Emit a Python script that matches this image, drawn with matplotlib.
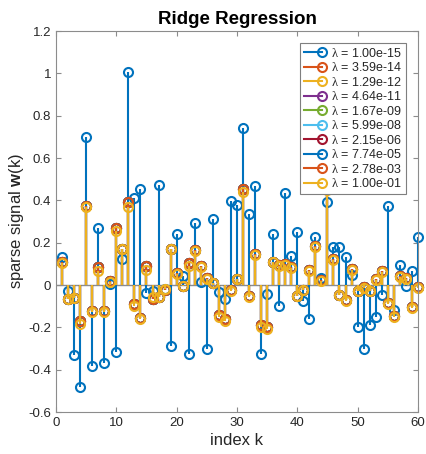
import numpy as np
import matplotlib
matplotlib.use("Agg")
import matplotlib.pyplot as plt
from matplotlib.lines import Line2D
from matplotlib.legend_handler import HandlerBase

plt.rcParams['font.family'] = ['Liberation Sans', 'DejaVu Sans']
plt.rcParams['mathtext.fontset'] = 'custom'
plt.rcParams['mathtext.bf'] = 'Liberation Sans:bold'
plt.rcParams['mathtext.rm'] = 'Liberation Serif'

# ---- data ----
k = np.arange(1, 61)
lambdas = ["1.00e-15", "3.59e-14", "1.29e-12", "4.64e-11", "1.67e-09",
           "5.99e-08", "2.15e-06", "7.74e-05", "2.78e-03", "1.00e-01"]

w_lam1 = [0.13, -0.028, -0.33, -0.483, 0.698, -0.383, 0.268, -0.37, 0.005, -0.318,
          0.121, 1.008, 0.41, 0.455, -0.04, -0.03, 0.472, -0.02, -0.288, 0.24,
          0.042, -0.328, 0.295, 0.016, -0.302, 0.31, -0.033, -0.068, 0.397, 0.378,
          0.74, 0.334, 0.47, -0.326, -0.042, 0.24, -0.098, 0.433, 0.138, 0.25,
          -0.074, -0.162, 0.225, 0.035, 0.392, 0.178, 0.178, 0.134, 0.047, -0.2,
          -0.304, -0.19, -0.15, -0.047, 0.375, -0.118, 0.094, -0.003, 0.065, 0.225]

w_mid = [0.11, -0.066, -0.06, -0.172, 0.372, -0.124, 0.085, -0.124, 0.018, 0.268,
         0.172, 0.39, -0.09, -0.155, 0.09, -0.065, -0.058, -0.022, 0.172, 0.055,
         -0.003, 0.105, 0.165, 0.092, 0.032, 0.01, -0.143, -0.162, -0.025, 0.03,
         0.452, -0.052, 0.148, -0.19, -0.2, 0.11, 0.094, 0.1, 0.083, -0.05,
         -0.022, 0.072, 0.183, 0.025, 0.455, 0.122, -0.045, -0.07, 0.076, -0.028,
         -0.01, -0.027, 0.03, 0.068, -0.086, -0.148, 0.042, 0.032, -0.106, -0.008]

w_last = [0.105, -0.068, -0.063, -0.185, 0.367, -0.126, 0.068, -0.126, 0.016, 0.255,
          0.168, 0.37, -0.1, -0.16, 0.07, -0.058, -0.055, -0.02, 0.17, 0.05,
          -0.005, 0.09, 0.16, 0.085, 0.03, 0.008, -0.15, -0.168, -0.027, 0.028,
          0.44, -0.055, 0.14, -0.2, -0.208, 0.107, 0.091, 0.095, 0.08, -0.052,
          -0.024, 0.068, 0.18, 0.018, 0.45, 0.12, -0.047, -0.074, 0.07, -0.03,
          -0.013, -0.03, 0.025, 0.062, -0.09, -0.153, 0.04, 0.03, -0.11, -0.016]

series = [w_lam1] + [w_mid] * 8 + [w_last]

colors = ['#0072BD', '#D95319', '#EDB120', '#7E2F8E', '#77AC30',
          '#4DBEEE', '#A2142F', '#0072BD', '#D95319', '#EDB120']

# ---- figure ----
fig = plt.figure(figsize=(4.26, 4.54), dpi=100)
ax = fig.add_axes([0.1315, 0.0925, 0.8495, 0.8392])

ax.axhline(0, color='#8c8c8c', lw=1.0, zorder=1)
handles = []
for vals, c, lam in zip(series, colors, lambdas):
    ml, sl, bl = ax.stem(k, vals, basefmt=' ')
    sl.set_color(c)
    sl.set_linewidth(1.5)
    ml.set_marker('o')
    ml.set_markerfacecolor('none')
    ml.set_markeredgecolor(c)
    ml.set_markersize(6.5)
    ml.set_markeredgewidth(1.5)
    ml.set_clip_on(False)
    h = Line2D([], [], color=c, lw=1.5)
    handles.append((h, r'$\mathrm{\lambda}$ = ' + lam))


class StemHandler(HandlerBase):
    def create_artists(self, legend, orig_handle, xdescent, ydescent,
                       width, height, fontsize, trans):
        c = orig_handle.get_color()
        y = height / 2 - ydescent
        line = Line2D([-xdescent, width - xdescent - 4], [y, y], color=c, lw=1.5)
        mk = Line2D([width - xdescent - 4], [y], marker='o', mfc='none', mec=c,
                    ms=6.5, mew=1.5, ls='none')
        line.set_transform(trans)
        mk.set_transform(trans)
        return [line, mk]


leg = ax.legend([h for h, _ in handles], [t for _, t in handles],
                handler_map={Line2D: StemHandler()},
                loc='upper right', bbox_to_anchor=(0.966, 0.969),
                fontsize=9, frameon=True, fancybox=False, framealpha=1,
                edgecolor='#7f7f7f', handlelength=1.9, handletextpad=0.25,
                labelspacing=0.12, borderpad=0.3, borderaxespad=0.0)
leg.get_frame().set_linewidth(0.8)
for t in leg.get_texts():
    t.set_color('#262626')

ax.set_xlim(0, 60)
ax.set_ylim(-0.6, 1.2)
ax.set_xticks(np.arange(0, 61, 10))
ax.set_yticks(np.round(np.arange(-0.6, 1.21, 0.2), 1))
ax.set_yticklabels(['-0.6', '-0.4', '-0.2', '0', '0.2', '0.4', '0.6', '0.8', '1', '1.2'])

for s in ax.spines.values():
    s.set_color('#8c8c8c')
    s.set_linewidth(0.8)
ax.tick_params(direction='in', length=3.5, width=0.8, color='#8c8c8c',
               labelcolor='#262626', labelsize=9.5, top=True, right=True)

ax.set_xlabel('index k', fontsize=12, color='#262626', labelpad=3)
ax.set_ylabel(r'sparse signal $\mathbf{w}$(k)', fontsize=12, color='#262626', labelpad=2)
ax.set_title('Ridge Regression', fontsize=13.5, fontweight='bold', color='black', pad=5)

fig.savefig('out.png', dpi=100, facecolor='white')
